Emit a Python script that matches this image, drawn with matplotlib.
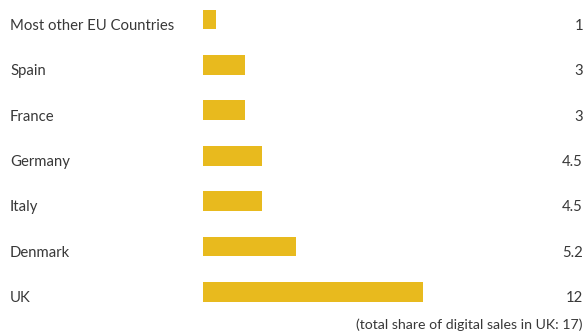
import matplotlib
matplotlib.use("Agg")
import matplotlib.pyplot as plt
from matplotlib.transforms import blended_transform_factory

# data
countries = ["Most other EU Countries", "Spain", "France", "Germany", "Italy", "Denmark", "UK"]
shown_values = ["1", "3", "3", "4.5", "4.5", "5.2", "12"]
# bar lengths as drawn in the picture (not exactly proportional to the labels)
bar_lengths = [0.7, 2.3, 2.3, 3.2, 3.2, 5.1, 12]
footnote = "(total share of digital sales in UK: 17)"

bar_color = "#E8BA1E"
text_color = "#383838"

plt.rcParams['font.family'] = ['Lato', 'DejaVu Sans']

W, H = 585, 334
fig = plt.figure(figsize=(W / 100, H / 100), dpi=100)
ax = fig.add_axes([203 / W, 0, 1 - 203 / W, 1])

ypos = list(range(len(countries)))
ax.barh(ypos, bar_lengths, height=0.44, color=bar_color)
ax.set_xlim(0, (W - 203) / 18.33)
ax.set_ylim((H - 19.5) / 45.4, -19.5 / 45.4)
ax.axis("off")

tr = blended_transform_factory(fig.transFigure, ax.transData)
for i, (name, val) in enumerate(zip(countries, shown_values)):
    ax.text(10 / W, i + 0.14, name, transform=tr, ha="left", va="center",
            fontsize=10.7, color=text_color)
    ax.text(583 / W, i + 0.14, val, transform=tr, ha="right", va="center",
            fontsize=10.7, color=text_color)

fig.text(583 / W, 1 - 325 / H, footnote, ha="right", va="center",
         fontsize=10.2, color=text_color)

fig.savefig("out.png", dpi=100)
